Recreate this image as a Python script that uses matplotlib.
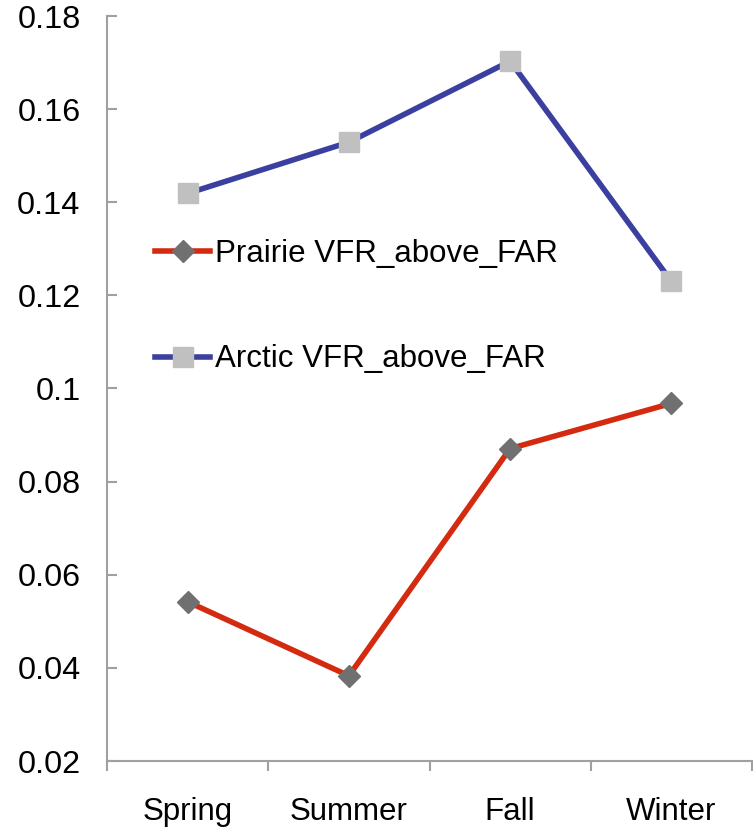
import matplotlib

matplotlib.use("Agg")

import matplotlib.pyplot as plt
from matplotlib.ticker import FixedLocator

plt.rcParams["font.family"] = ["Liberation Sans", "DejaVu Sans"]

# datos por estación
estaciones = ["Spring", "Summer", "Fall", "Winter"]
prairie = [0.0542, 0.0383, 0.0871, 0.0968]
arctic = [0.1419, 0.1529, 0.1703, 0.1230]

ROJO = "#d42a10"
AZUL = "#3b3f9f"
GRIS_EJE = "#a0a0a0"

fig = plt.figure(figsize=(7.53, 8.30), dpi=100)
ax = fig.add_axes([107 / 753, 69 / 830, 645 / 753, 745 / 830])

x = list(range(len(estaciones)))
ax.plot(x, prairie, color=ROJO, linewidth=4, marker="D", markersize=11.5,
        markerfacecolor="#707070", markeredgecolor="#707070",
        label="Prairie VFR_above_FAR", zorder=3)
ax.plot(x, arctic, color=AZUL, linewidth=4, marker="s", markersize=14.5,
        markerfacecolor="#c0c0c0", markeredgecolor="#c0c0c0",
        label="Arctic VFR_above_FAR", zorder=3)

ax.set_xlim(-0.5, len(estaciones) - 0.5)
ax.set_ylim(0.02, 0.18)
ax.set_yticks([0.02, 0.04, 0.06, 0.08, 0.10, 0.12, 0.14, 0.16, 0.18])
ax.set_yticklabels(["0.02", "0.04", "0.06", "0.08", "0.1", "0.12", "0.14", "0.16", "0.18"])

ax.set_xticks(x)
ax.set_xticklabels(estaciones)
ax.xaxis.set_minor_locator(FixedLocator([i - 0.5 for i in range(len(estaciones) + 1)]))

for s in ("top", "right"):
    ax.spines[s].set_visible(False)
for s in ("bottom", "left"):
    ax.spines[s].set_color(GRIS_EJE)
    ax.spines[s].set_linewidth(1.5)

ax.tick_params(axis="y", direction="in", length=7, width=1.5, color=GRIS_EJE,
               labelsize=23.3, pad=19)
ax.tick_params(axis="x", which="major", length=0, labelsize=22.5, pad=26)
ax.tick_params(axis="x", which="minor", direction="out", length=7, width=1.5,
               color=GRIS_EJE)

leg = ax.legend(loc="center left", bbox_to_anchor=(155 / 753, 1 - 306.5 / 830),
                bbox_transform=fig.transFigure, frameon=False, fontsize=22.5,
                handlelength=1.77, handletextpad=0.16, labelspacing=2.43,
                borderpad=0, borderaxespad=0)

fig.savefig("out.png", dpi=100)
